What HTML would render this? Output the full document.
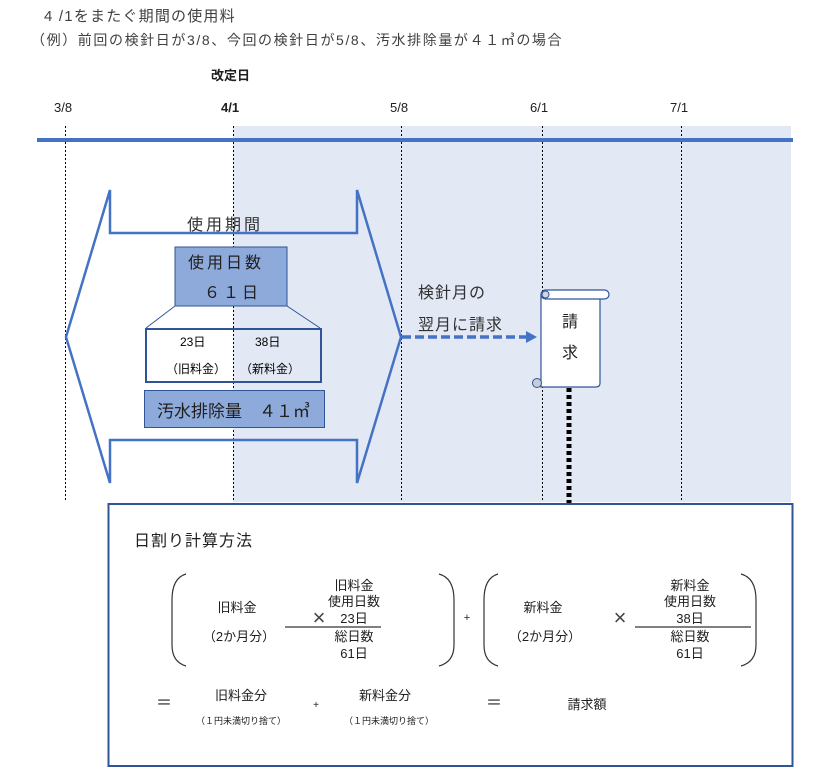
<!DOCTYPE html>
<html><head><meta charset="utf-8"><style>
html,body{margin:0;padding:0;background:#fff;}
svg{display:block;}
text{font-family:"Liberation Sans","Noto Sans CJK JP",sans-serif;}
</style></head><body>
<svg width="821" height="780" viewBox="0 0 821 780" xmlns="http://www.w3.org/2000/svg">
<rect x="233" y="126" width="558" height="376" fill="#e2e8f4"/>
<text x="44" y="21" font-size="15" fill="#404040" letter-spacing="1.2">4 /1をまたぐ期間の使用料</text>
<text x="31" y="45" font-size="14" fill="#404040" letter-spacing="1.6">（例）前回の検針日が3/8、今回の検針日が5/8、汚水排除量が４１㎥の場合</text>
<text x="211" y="80" font-size="13" font-weight="bold" fill="#202020">改定日</text>
<text x="54" y="112" font-size="13" fill="#202020">3/8</text>
<text x="221" y="112" font-size="13" font-weight="bold" fill="#202020">4/1</text>
<text x="390" y="112" font-size="13" fill="#202020">5/8</text>
<text x="530" y="112" font-size="13" fill="#202020">6/1</text>
<text x="670" y="112" font-size="13" fill="#202020">7/1</text>
<g stroke="#000" stroke-width="1" stroke-dasharray="2,2">
<line x1="65.5" y1="126" x2="65.5" y2="502"/>
<line x1="233.5" y1="126" x2="233.5" y2="502"/>
<line x1="401.5" y1="126" x2="401.5" y2="502"/>
<line x1="542.5" y1="126" x2="542.5" y2="502"/>
<line x1="681.5" y1="126" x2="681.5" y2="502"/>
</g>
<line x1="37" y1="140" x2="793" y2="140" stroke="#4472c4" stroke-width="4"/>
<polygon points="110,190 110,233 357,233 357,190 401,337 357,483 357,440 110,440 110,483 66,337" fill="none" stroke="#4472c4" stroke-width="2.5"/>
<text x="187" y="230" font-size="16" fill="#303030" letter-spacing="3">使用期間</text>
<rect x="175" y="247" width="112" height="59" fill="#8eaadb" stroke="#2f5597" stroke-width="1"/>
<text x="188" y="268" font-size="16" fill="#202020" letter-spacing="3">使用日数</text>
<text x="204" y="298" font-size="16" fill="#202020" letter-spacing="3">６１日</text>
<line x1="175" y1="306" x2="146" y2="328" stroke="#2f5597" stroke-width="1"/>
<line x1="287" y1="306" x2="320" y2="328" stroke="#2f5597" stroke-width="1"/>
<rect x="146" y="329" width="175" height="53" fill="none" stroke="#2f5597" stroke-width="2"/>
<text x="180" y="346" font-size="12" fill="#000">23日</text>
<text x="255" y="346" font-size="12" fill="#000">38日</text>
<text x="166" y="373" font-size="12" fill="#000">（旧料金）</text>
<text x="240" y="373" font-size="12" fill="#000">（新料金）</text>
<rect x="144.5" y="390.5" width="180" height="37" fill="#8eaadb" stroke="#2f5597" stroke-width="1"/>
<text x="157" y="417" font-size="17" fill="#202020">汚水排除量　４１㎥</text>
<line x1="402" y1="337" x2="526" y2="337" stroke="#4472c4" stroke-width="3.5" stroke-dasharray="9,4"/>
<polygon points="526,331 537,337 526,343" fill="#4472c4"/>
<text x="418" y="298" font-size="16" fill="#303030" letter-spacing="1">検針月の</text>
<text x="418" y="330" font-size="16" fill="#303030" letter-spacing="1">翌月に請求</text>
<line x1="569" y1="388" x2="569" y2="503" stroke="#000" stroke-width="5" stroke-dasharray="4,3"/>
<path d="M541,294 L541,387 L596,387 Q600,387 600,383 L600,299" fill="#fff" stroke="#2f5597" stroke-width="1.2"/>
<rect x="541" y="290" width="68" height="9" rx="4.5" fill="#fff" stroke="#2f5597" stroke-width="1.2"/>
<circle cx="545.5" cy="294.5" r="3.5" fill="#d0d6e2" stroke="#2f5597" stroke-width="1"/>
<circle cx="537" cy="383" r="4.5" fill="#c8ccd4" stroke="#2f5597" stroke-width="1"/>
<text x="562" y="327" font-size="16" fill="#202020">請</text>
<text x="562" y="358" font-size="16" fill="#202020">求</text>
<rect x="108.5" y="504" width="684" height="262" fill="#fff" stroke="#2f5597" stroke-width="2"/>
<text x="134" y="546" font-size="16" fill="#202020" letter-spacing="1">日割り計算方法</text>
<g fill="none" stroke="#333" stroke-width="1.2">
<path d="M186,574 Q172,578 172,600 L172,645 Q172,662 186,666"/>
<path d="M439,574 Q454,578 454,600 L454,645 Q454,662 439,666"/>
<path d="M498,574 Q484,578 484,600 L484,645 Q484,662 498,666"/>
<path d="M741,574 Q756,578 756,600 L756,645 Q756,662 741,666"/>
</g>
<line x1="285" y1="627" x2="381" y2="627" stroke="#000" stroke-width="1"/>
<line x1="635" y1="627" x2="751" y2="627" stroke="#000" stroke-width="1"/>
<g font-size="13" fill="#202020" text-anchor="middle">
<text x="237" y="612">旧料金</text>
<text x="239" y="641">（2か月分）</text>
<text x="319" y="625" font-size="22" fill="#444">×</text>
<text x="354" y="590">旧料金</text>
<text x="354" y="606">使用日数</text>
<text x="354" y="623">23日</text>
<text x="354" y="641">総日数</text>
<text x="354" y="658">61日</text>
<text x="467" y="621" font-size="11">+</text>
<text x="543" y="612">新料金</text>
<text x="545" y="641">（2か月分）</text>
<text x="620" y="625" font-size="22" fill="#444">×</text>
<text x="690" y="590">新料金</text>
<text x="690" y="606">使用日数</text>
<text x="690" y="623">38日</text>
<text x="690" y="641">総日数</text>
<text x="690" y="658">61日</text>
<text x="164" y="708" font-size="16">＝</text>
<text x="241" y="700">旧料金分</text>
<text x="241" y="724" font-size="9">（１円未満切り捨て）</text>
<text x="316" y="708" font-size="10">+</text>
<text x="385" y="700">新料金分</text>
<text x="389" y="724" font-size="9">（１円未満切り捨て）</text>
<text x="494" y="708" font-size="16">＝</text>
<text x="587" y="709">請求額</text>
</g>
</svg>
</body></html>
